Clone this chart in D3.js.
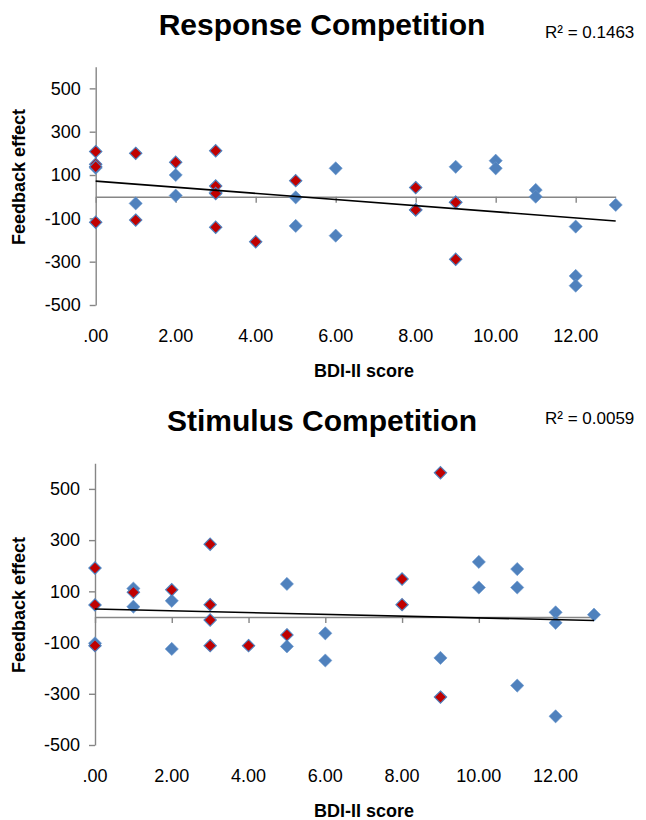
<!DOCTYPE html>
<html><head><meta charset="utf-8">
<script src="https://cdn.jsdelivr.net/npm/d3@7"></script>
<style>
body{margin:0;background:#fff;}
text{font-family:"Liberation Sans",Arial,Helvetica,sans-serif;fill:#000;}
</style></head>
<body>
<svg id="chart" width="646" height="820"></svg>
<script>
// ---------- data ----------
const xTicks = [0, 2, 4, 6, 8, 10, 12];
const xTickLabels = [".00", "2.00", "4.00", "6.00", "8.00", "10.00", "12.00"];
const yTicks = [500, 300, 100, -100, -300, -500];
const yTickLabels = ["500", "300", "100", "-100", "-300", "-500"];

// Response Competition
const respBlueX = [0, 1, 2, 2, 3, 5, 5, 6, 6, 8, 9, 9, 10, 10, 11, 11, 12, 12, 12, 13];
const respBlueY = [133, -31, 100, 5, 20, -3, -135, 131, -180, -61, 138, -26, 166, 131, 31, 0, -138, -366, -411, -38];
const respRedX = [0, 0, 0, 0, 1, 1, 2, 3, 3, 3, 3, 4, 5, 8, 8, 9, 9];
const respRedY = [208, 150, 138, -118, 200, -108, 159, 212, 49, 15, -141, -208, 74, 42, -61, -26, -289];
const respTrend = [72, -112];   // fitted value at x = 0 and at x = 13
const respR2 = "R² = 0.1463";

// Stimulus Competition
const stimBlueX = [0, 1, 1, 2, 2, 5, 5, 6, 6, 9, 10, 10, 11, 11, 11, 12, 12, 12, 13];
const stimBlueY = [-103, 111, 40, 63, -125, 129, -115, -64, -170, -160, 215, 115, 187, 115, -268, 18, -23, -388, 9];
const stimRedX = [0, 0, 0, 1, 2, 3, 3, 3, 3, 4, 5, 8, 8, 9, 9];
const stimRedY = [191, 47, -112, 96, 106, 284, 48, -12, -112, -112, -70, 148, 48, 563, -313];
const stimTrend = [31, -14];
const stimR2 = "R² = 0.0059";

const xDomain = [0, 13];
const yDomain = [-500, 600];

// ---------- drawing ----------
const svg = d3.select("#chart");
const BLUE = "#4F81BD", RED = "#C00000", AXIS = "#868686";

function drawPanel(cfg) {
  const g = svg.append("g");
  const x = d3.scaleLinear().domain(xDomain).range([cfg.left, cfg.right]);
  const y = d3.scaleLinear().domain(yDomain).range([cfg.bottom, cfg.top]);

  // title
  g.append("text").attr("x", 322).attr("y", cfg.titleY).attr("text-anchor", "middle")
    .attr("font-size", 30).attr("font-weight", "bold").text(cfg.title);
  g.append("text").attr("x", 545).attr("y", cfg.r2Y).attr("font-size", 17).text(cfg.r2);

  // y axis
  const ya = g.append("g").attr("transform", `translate(${cfg.left},0)`)
    .call(d3.axisLeft(y).tickValues(yTicks).tickFormat((d, i) => yTickLabels[i])
      .tickSize(6).tickSizeOuter(0).tickPadding(9));
  ya.select(".domain").attr("stroke", AXIS).attr("stroke-width", 1.4);
  ya.selectAll(".tick line").attr("stroke", AXIS).attr("stroke-width", 1.4);
  ya.selectAll(".tick text").attr("font-size", 18).attr("fill", "#000")
    .attr("font-family", '"Liberation Sans",Arial,sans-serif');

  // x axis at zero
  const xa = g.append("g").attr("transform", `translate(0,${y(0)})`)
    .call(d3.axisBottom(x).tickValues(xTicks).tickFormat("").tickSize(6).tickSizeOuter(0));
  xa.select(".domain").attr("stroke", AXIS).attr("stroke-width", 1.4);
  xa.selectAll(".tick line").attr("stroke", AXIS).attr("stroke-width", 1.4);

  // x tick labels at the low position
  g.selectAll(".xl").data(xTicks).enter().append("text")
    .attr("x", d => x(d)).attr("y", cfg.bottom + 37).attr("text-anchor", "middle")
    .attr("font-size", 18).text((d, i) => xTickLabels[i]);

  // axis titles
  g.append("text").attr("x", 364).attr("y", cfg.bottom + 72).attr("text-anchor", "middle")
    .attr("font-size", 18).attr("font-weight", "bold").text("BDI-II score");
  g.append("text").attr("transform", `translate(24.5,${cfg.yTitleC}) rotate(-90)`)
    .attr("text-anchor", "middle").attr("font-size", 18).attr("font-weight", "bold")
    .text("Feedback effect");

  // blue points
  g.selectAll(".b").data(cfg.blueX.map((v, i) => [v, cfg.blueY[i]])).enter().append("path")
    .attr("d", "M0,-6.6L6.6,0L0,6.6L-6.6,0Z").attr("transform", d => `translate(${x(d[0])},${y(d[1])})`)
    .attr("fill", BLUE).attr("stroke", "#6b98cf").attr("stroke-width", 0.6);
  // red points
  g.selectAll(".r").data(cfg.redX.map((v, i) => [v, cfg.redY[i]])).enter().append("path")
    .attr("d", "M0,-6.1L6.1,0L0,6.1L-6.1,0Z").attr("transform", d => `translate(${x(d[0])},${y(d[1])})`)
    .attr("fill", RED).attr("stroke", BLUE).attr("stroke-width", 1.2);

  // trend line
  g.append("line").attr("x1", x(xDomain[0])).attr("y1", y(cfg.trend[0]))
    .attr("x2", x(xDomain[1])).attr("y2", y(cfg.trend[1]))
    .attr("stroke", "#000").attr("stroke-width", 1.6);
}

drawPanel({
  title: "Response Competition", r2: respR2, titleY: 34.5, r2Y: 37.7,
  left: 95.7, right: 615.7, top: 66.7, bottom: 305, yTitleC: 177,
  blueX: respBlueX, blueY: respBlueY, redX: respRedX, redY: respRedY, trend: respTrend
});
drawPanel({
  title: "Stimulus Competition", r2: stimR2, titleY: 430.7, r2Y: 424,
  left: 95, right: 594, top: 463.3, bottom: 745, yTitleC: 605,
  blueX: stimBlueX, blueY: stimBlueY, redX: stimRedX, redY: stimRedY, trend: stimTrend
});
</script>
</body></html>
